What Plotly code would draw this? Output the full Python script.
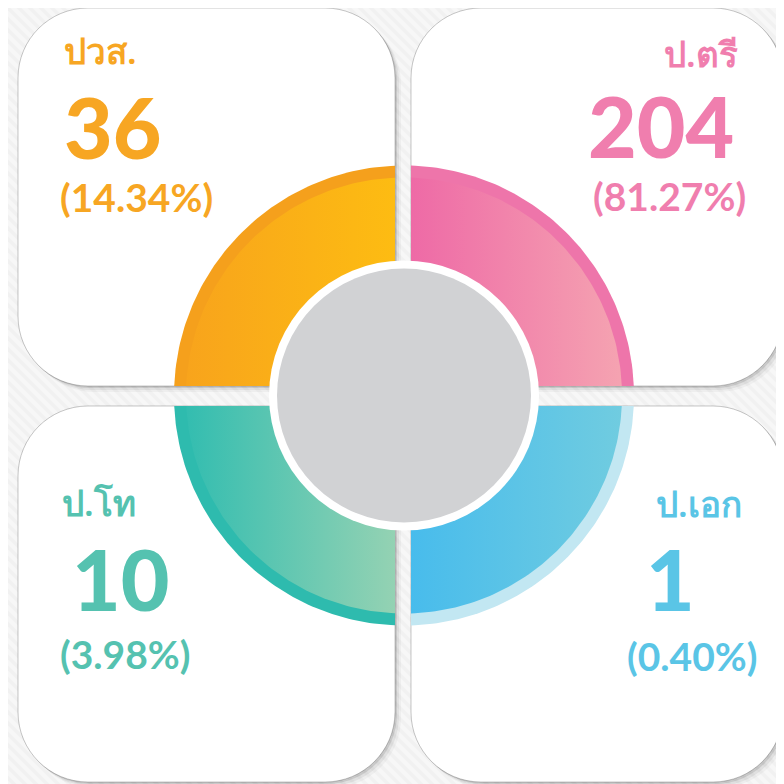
import math
import plotly.graph_objects as go

# ---------------- data ----------------
labels = ["ปวส.", "ป.ตรี", "ป.โท", "ป.เอก"]
counts = [36, 204, 10, 1]
percents = [14.34, 81.27, 3.98, 0.40]

text_colors = ["#F7A623", "#F07EAE", "#55C2B0", "#5AC5E6"]
grad_left = ["#F8A41C", "#EE6AA6", "#33BDB0", "#48BCEC"]
grad_right = ["#FDBC12", "#F5A3B1", "#94D2B3", "#70CCE0"]
band_colors = ["#F5A01C", "#EE75AA", "#2EBBAE", "#C2E7F2"]

# ---------------- layout constants ----------------
W = H = 784
OFF = 8  # page body margin: axis ranges shifted so data coords == page pixels
CX, CY = 404.0, 395.5
R_OUT, R_BAND, R_WHITE, R_GRAY = 230.0, 218.0, 135.0, 127.0
CARD_R = 70.0
# card boxes: (x0, y0, x1, y1)
cards = [(18, 8, 395, 386), (411, 8, 783, 386), (18, 406, 395, 782), (411, 406, 783, 782)]
# quadrant orientation and clip distances (sx, sy, a, b)
quads = [(-1, -1, CX - 395, CY - 386), (1, -1, 411 - CX, CY - 386),
         (-1, 1, CX - 395, 406 - CY), (1, 1, 411 - CX, 406 - CY)]
# text placement per card: anchor, (x, y) of label, count, percent
text_anchor = ["left", "right", "left", "right"]
label_xy = [(62, 50), (740, 53), (60, 502), (744, 503)]
count_xy = [(62, 126), (736, 125), (70, 578), (697, 578)]
pct_xy = [(58, 197), (748, 196), (58, 654), (760, 656)]


def rrect(x0, y0, x1, y1, r):
    k = 0.5523 * r
    return (f"M {x0+r},{y0} L {x1-r},{y0} C {x1-r+k},{y0} {x1},{y0+r-k} {x1},{y0+r} "
            f"L {x1},{y1-r} C {x1},{y1-r+k} {x1-r+k},{y1} {x1-r},{y1} "
            f"L {x0+r},{y1} C {x0+r-k},{y1} {x0},{y1-r+k} {x0},{y1-r} "
            f"L {x0},{y0+r} C {x0},{y0+r-k} {x0+r-k},{y0} {x0+r},{y0} Z")


def quad_poly(sx, sy, a, b, r, n=80):
    t0 = math.atan2(math.sqrt(r * r - a * a), a)
    t1 = math.atan2(b, math.sqrt(r * r - b * b))
    us, vs = [a], [b]
    for i in range(n + 1):
        t = t0 + (t1 - t0) * i / n
        us.append(r * math.cos(t))
        vs.append(r * math.sin(t))
    us.append(a)
    vs.append(b)
    xs = [CX + sx * u for u in us]
    ys = [CY + sy * v for v in vs]
    return xs, ys


fig = go.Figure()

shapes = []
# faint diagonal stripes in the background
for i in range(-80, 80):
    x0 = i * 11
    shapes.append(dict(type="line", x0=x0, y0=0, x1=x0 + H + 2 * OFF, y1=H + 2 * OFF,
                       line=dict(color="rgba(0,0,0,0.025)", width=4), layer="below"))
# card shadows + cards
for (x0, y0, x1, y1) in cards:
    for off, op in [(6, 0.035), (4, 0.06), (2, 0.10)]:
        shapes.append(dict(type="path", path=rrect(x0 + off, y0 + off, x1 + off, y1 + off, CARD_R),
                           fillcolor=f"rgba(0,0,0,{op})", line=dict(width=0), layer="below"))
    shapes.append(dict(type="path", path=rrect(x0, y0, x1, y1, CARD_R),
                       fillcolor="white", line=dict(color="rgba(0,0,0,0.22)", width=1), layer="below"))

# ring quadrants
for i, (sx, sy, a, b) in enumerate(quads):
    xs, ys = quad_poly(sx, sy, a, b, R_OUT)
    fig.add_trace(go.Scatter(x=xs, y=ys, mode="lines", fill="toself", fillcolor=band_colors[i],
                             line=dict(width=0), hoverinfo="skip", showlegend=False))
    xs, ys = quad_poly(sx, sy, a, b, R_BAND)
    fig.add_trace(go.Scatter(x=xs, y=ys, mode="lines", fill="toself",
                             fillgradient=dict(type="horizontal",
                                               colorscale=[[0, grad_left[i]], [1, grad_right[i]]]),
                             line=dict(width=0), hoverinfo="skip", showlegend=False))

# white border and gray center
shapes.append(dict(type="circle", x0=CX - R_WHITE, x1=CX + R_WHITE, y0=CY - R_WHITE, y1=CY + R_WHITE,
                   fillcolor="white", line=dict(width=0), layer="above"))
shapes.append(dict(type="circle", x0=CX - R_GRAY, x1=CX + R_GRAY, y0=CY - R_GRAY, y1=CY + R_GRAY,
                   fillcolor="#D1D2D4", line=dict(width=0), layer="above"))

annotations = []
for i in range(4):
    anc = text_anchor[i]
    col = text_colors[i]
    annotations.append(dict(x=label_xy[i][0], y=label_xy[i][1], text=labels[i], showarrow=False,
                            xanchor=anc, yanchor="middle",
                            font=dict(family="Noto Sans, DejaVu Sans, sans-serif", size=35, color=col,
                                      weight=600)))
    annotations.append(dict(x=count_xy[i][0], y=count_xy[i][1], text=f"{counts[i]}", showarrow=False,
                            xanchor=anc, yanchor="middle",
                            font=dict(family="Lato", size=84, color=col, weight=900)))
    annotations.append(dict(x=pct_xy[i][0], y=pct_xy[i][1], text=f"({percents[i]:.2f}%)", showarrow=False,
                            xanchor=anc, yanchor="middle",
                            font=dict(family="Lato", size=39, color=col, weight=700)))

fig.update_layout(
    width=W, height=H, margin=dict(l=0, r=0, t=0, b=0),
    paper_bgcolor="#F7F7F7", plot_bgcolor="#F7F7F7",
    xaxis=dict(range=[OFF, W + OFF], visible=False, fixedrange=True),
    yaxis=dict(range=[H + OFF, OFF], visible=False, fixedrange=True),
    shapes=shapes, annotations=annotations, showlegend=False,
)

fig.write_html("out.html")
